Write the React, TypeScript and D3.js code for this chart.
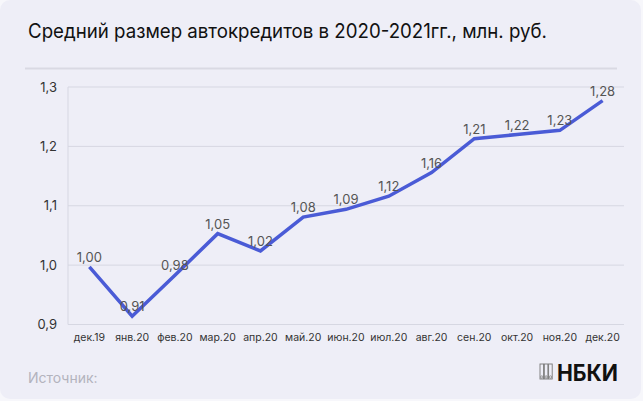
import React, { useEffect, useRef } from "react";
import * as d3 from "d3";

const categories = ["дек.19","янв.20","фев.20","мар.20","апр.20","май.20","июн.20","июл.20","авг.20","сен.20","окт.20","ноя.20","дек.20"];
const values = [0.997, 0.914, 0.983, 1.053, 1.024, 1.081, 1.094, 1.116, 1.156, 1.213, 1.220, 1.227, 1.277];
const yTicks = [0.9, 1.0, 1.1, 1.2, 1.3];
const title = "Средний размер автокредитов в 2020-2021гг., млн. руб.";
const sourceLabel = "Источник:";
const logoText = "НБКИ";

const W = 643, H = 401;
const FONT = "Inter, Roboto, 'Noto Sans', sans-serif";

export default function App() {
  const ref = useRef<SVGSVGElement>(null);
  useEffect(() => {
    const svg = d3.select(ref.current);
    svg.selectAll("*").remove();
    const left = 68, right = 624, top = 87, bottom = 324.5;

    svg.append("rect").attr("width", W).attr("height", H).attr("fill", "#f7f7fb");
    svg.append("rect").attr("x", 0).attr("y", 0).attr("width", 641).attr("height", 399)
      .attr("rx", 10).attr("fill", "#eeeef7");

    svg.append("text").attr("x", 28).attr("y", 38).attr("font-family", FONT)
      .attr("font-size", 20).attr("fill", "#111").attr("textLength", 519)
      .attr("lengthAdjust", "spacingAndGlyphs").text(title);
    svg.append("line").attr("x1", 25).attr("x2", 617).attr("y1", 68.5).attr("y2", 68.5)
      .attr("stroke", "#d9d9e3").attr("stroke-width", 2);

    const x = d3.scalePoint<string>().domain(categories).range([left, right]).padding(0.5);
    const y = d3.scaleLinear().domain([0.9, 1.3]).range([bottom, top]);

    const g = svg.append("g");
    g.selectAll("line.grid").data(yTicks).enter().append("line")
      .attr("x1", left).attr("x2", right)
      .attr("y1", d => y(d)).attr("y2", d => y(d))
      .attr("stroke", "#d6d7e2").attr("stroke-width", 1);
    g.append("line").attr("x1", left).attr("x2", left).attr("y1", top).attr("y2", bottom)
      .attr("stroke", "#d6d7e2").attr("stroke-width", 1);

    g.selectAll("text.yt").data(yTicks).enter().append("text")
      .attr("x", 57).attr("y", d => y(d) + 4.5).attr("text-anchor", "end")
      .attr("font-family", FONT).attr("font-size", 13).attr("fill", "#333")
      .text(d => d3.format(".1f")(d).replace(".", ","));

    g.selectAll("text.xt").data(categories).enter().append("text")
      .attr("x", d => x(d)!).attr("y", 341).attr("text-anchor", "middle")
      .attr("font-family", FONT).attr("font-size", 10.5).attr("fill", "#333")
      .text(d => d);

    const line = d3.line<number>().x((_, i) => x(categories[i])!).y(d => y(d));
    g.append("path").datum(values).attr("d", line).attr("fill", "none")
      .attr("stroke", "#4a5bd6").attr("stroke-width", 3.5).attr("stroke-linejoin", "miter");

    g.selectAll("text.lbl").data(values).enter().append("text")
      .attr("x", (_, i) => x(categories[i])!).attr("y", d => y(d) - 5)
      .attr("text-anchor", "middle").attr("font-family", FONT).attr("font-size", 13)
      .attr("fill", "#555").text(d => d3.format(".2f")(d).replace(".", ","));

    svg.append("text").attr("x", 28).attr("y", 383).attr("font-family", FONT)
      .attr("font-size", 14).attr("fill", "#b3b3bd").text(sourceLabel);

    const logo = svg.append("g").attr("transform", "translate(540,364)");
    for (let i = 0; i < 3; i++) {
      logo.append("rect").attr("x", i * 4.3).attr("y", 0).attr("width", 3.6).attr("height", 15)
        .attr("fill", "none").attr("stroke", "#777").attr("stroke-width", 0.9);
      logo.append("circle").attr("cx", i * 4.3 + 1.8).attr("cy", 13).attr("r", 1.2)
        .attr("fill", "none").attr("stroke", "#777").attr("stroke-width", 0.7);
    }
    svg.append("text").attr("x", 557).attr("y", 381).attr("font-family", FONT)
      .attr("font-size", 23).attr("font-weight", 700).attr("fill", "#111")
      .attr("textLength", 61).attr("lengthAdjust", "spacingAndGlyphs").text(logoText);
  }, []);
  return (
    <div style={{ position: "fixed", left: 0, top: 0 }}>
      <svg ref={ref} width={W} height={H} style={{ display: "block" }} />
    </div>
  );
}
